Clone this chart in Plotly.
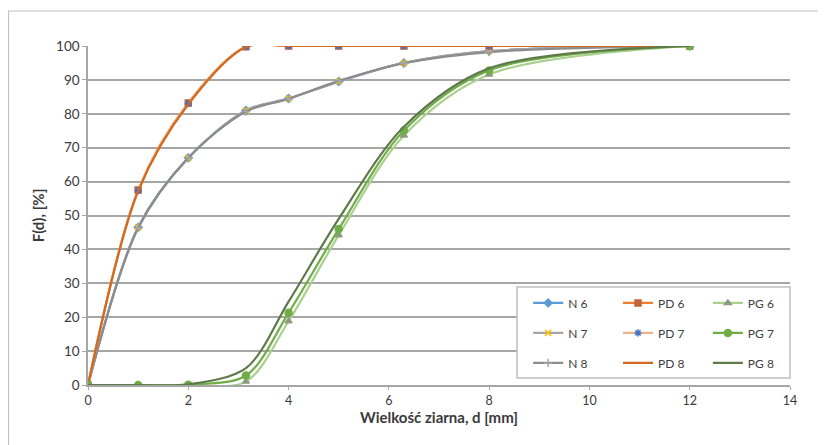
import plotly.graph_objects as go

d = [0, 1, 2, 3.15, 4, 5, 6.3, 8, 12]

n6 = [0, 46.5, 67, 81, 84.5, 89.5, 95, 98.5, 100]
n7 = [0, 46.5, 67, 81, 84.5, 89.5, 95, 98.5, 100]
n8 = [0, 46.3, 67, 80.7, 84.4, 89.7, 94.9, 98.2, 100]

pd6 = [0, 57.5, 83.2, 99.8, 100, 100, 100, 100, 100]
pd7 = [0, 57.3, 83.0, 99.8, 100, 100, 100, 100, 100]
pd8 = [0, 57.2, 82.8, 99.7, 100, 100, 100, 100, 100]

pg6 = [0, 0, 0, 1.0, 18.8, 44.2, 73.6, 91.6, 100]
pg7 = [0, 0, 0.1, 2.8, 21.3, 46.0, 75.1, 92.8, 100]
pg8 = [0, 0, 0.2, 5.0, 24.6, 49.0, 76.2, 93.4, 100]

x_title = "Wielkość ziarna, d [mm]"
y_title = "F(d), [%]"

# name, values, line colour, marker symbol, marker colour, marker size, legend column
series = [
    ("N 6", n6, "#5B9BD5", "diamond", "#5B9BD5", 6, "legend"),
    ("N 7", n7, "#A5A5A5", "x-thin-open", "#FFC000", 6, "legend"),
    ("N 8", n8, "#8C8C8C", "cross-thin-open", "#A5A5A5", 6, "legend"),
    ("PD 6", pd6, "#ED7D31", "square", "#C0653A", 6, "legend2"),
    ("PD 7", pd7, "#F4B183", "asterisk-open", "#4472C4", 6, "legend2"),
    ("PD 8", pd8, "#D2691E", None, None, 0, "legend2"),
    ("PG 6", pg6, "#A9D18E", "triangle-up", "#8C9A80", 6, "legend3"),
    ("PG 7", pg7, "#70AD47", "circle", "#70AD47", 7, "legend3"),
    ("PG 8", pg8, "#5E7A4A", None, None, 0, "legend3"),
]

fig = go.Figure()
for name, vals, lc, sym, mc, ms, leg in series:
    kw = dict(x=d, y=vals, name=name, legend=leg, legendgroup=name,
              line=dict(color=lc, width=2.2, shape="spline", smoothing=0.9))
    if sym:
        kw["mode"] = "lines+markers"
        kw["marker"] = dict(symbol=sym, color=mc, size=ms,
                            line=dict(color=mc, width=1.5))
    else:
        kw["mode"] = "lines"
    fig.add_trace(go.Scatter(**kw))

font = "Lato, Noto Sans, sans-serif"
legfont = dict(family=font, size=12, color="#404040")
legcommon = dict(orientation="v", y=0.285, yanchor="top", xanchor="left",
                 bgcolor="rgba(0,0,0,0)", borderwidth=0, font=legfont,
                 tracegroupgap=11, itemwidth=30)

fig.update_layout(
    width=826, height=445,
    margin=dict(l=80, r=44, t=38, b=68, autoexpand=False),
    paper_bgcolor="white", plot_bgcolor="white",
    font=dict(family=font, size=13, color="#3A3A3A"),
    showlegend=True,
    legend=dict(x=0.627, **legcommon),
    legend2=dict(x=0.755, **legcommon),
    legend3=dict(x=0.883, **legcommon),
    xaxis=dict(
        range=[0, 14], tick0=0, dtick=2, showgrid=False,
        showline=True, linecolor="#A6A6A6", linewidth=1.5,
        ticks="outside", ticklen=3, tickcolor="#A6A6A6",
        zeroline=False, tickfont=dict(size=12.5),
    ),
    yaxis=dict(
        range=[0, 100], tick0=0, dtick=10, showgrid=True,
        gridcolor="#A6A6A6", gridwidth=1.5,
        showline=True, linecolor="#A6A6A6", linewidth=1.5,
        ticks="outside", ticklen=4, tickcolor="#A6A6A6",
        zeroline=False, tickfont=dict(size=13.5),
        title=dict(text="<b>" + y_title + "</b>",
                   font=dict(family=font, size=15, color="#3A3A3A"), standoff=8),
    ),
)

fig.add_annotation(text="<b>" + x_title + "</b>", xref="paper", yref="paper",
                   x=0.5, y=-32 / 339, xanchor="center", yanchor="middle",
                   showarrow=False, font=dict(family=font, size=15, color="#3A3A3A"))

# legend box (covers the lines beneath it, like the reference)
fig.add_shape(type="rect", xref="paper", yref="paper", layer="above",
              x0=(517 - 88) / 702, x1=1.0, y0=(385 - 378) / 339, y1=(385 - 287) / 339,
              fillcolor="white", line=dict(color="#BFBFBF", width=1.5))

# chart frame (top edge visible in the reference)
fig.add_shape(type="line", xref="paper", yref="paper",
              x0=-80 / 702, x1=1.2, y0=(385 - 11) / 339, y1=(385 - 11) / 339,
              line=dict(color="#BFBFBF", width=1.2))
fig.add_shape(type="line", xref="paper", yref="paper",
              x0=-79.5 / 702, x1=-79.5 / 702, y0=(385 - 11) / 339, y1=-1,
              line=dict(color="#BFBFBF", width=1.2))

fig.write_html("out.html")
